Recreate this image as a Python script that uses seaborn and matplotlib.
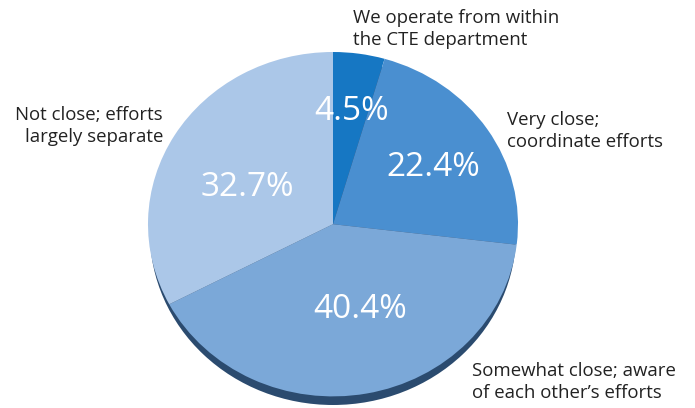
import matplotlib
matplotlib.use("Agg")
import matplotlib.pyplot as plt
from matplotlib.patches import Ellipse
import seaborn as sns

# Data
categories = ["We operate from within\nthe CTE department",
              "Very close;\ncoordinate efforts",
              "Somewhat close; aware\nof each other\u2019s efforts",
              "Not close; efforts\nlargely separate"]
values = [4.5, 22.4, 40.4, 32.7]
pct_labels = ["4.5%", "22.4%", "40.4%", "32.7%"]
colors = ["#1677c3", "#4a8fd0", "#7ba8d8", "#abc7e8"]

sns.set_theme(style="white")
plt.rcParams["font.family"] = ["Open Sans", "DejaVu Sans"]

W, H = 695, 408
fig = plt.figure(figsize=(W / 100, H / 100), dpi=100)

# Text overlay axes in pixel coordinates
tax = fig.add_axes([0, 0, 1, 1])
tax.set_xlim(0, W)
tax.set_ylim(H, 0)
tax.axis("off")

# Pie axes (slightly elliptical)
px0, px1, py0, py1 = 148, 518, 52, 405
pax = fig.add_axes([px0 / W, (H - py1) / H, (px1 - px0) / W, (py1 - py0) / H])
pax.patch.set_visible(False)

# shadow
shadow = Ellipse((0, -0.05), 1.98, 2.0, facecolor="#2b4b6f", edgecolor="none", zorder=0)
pax.add_patch(shadow)

wedges, _ = pax.pie(values, colors=colors, startangle=90, counterclock=False,
                    radius=1.0, center=(0, 0), frame=True,
                    wedgeprops=dict(linewidth=0))
pax.set_aspect("auto")
pax.set_xlim(-1, 1)
pax.set_ylim(-1.05, 1)
pax.axis("off")
pax.set_zorder(2)
tax.set_zorder(3)
tax.patch.set_visible(False)

# percentage labels (pixel positions)
pct_pos = [(352, 112), (433, 167), (360, 310), (247, 188)]
for (x, y), t in zip(pct_pos, pct_labels):
    tax.text(x, y, t, color="white", fontsize=24, ha="center", va="center", zorder=5)

# category labels
cat_pos = [(353, 29, "left"), (507, 131, "left"), (472, 382, "left"), (163, 126, "right")]
for (x, y, ha), t in zip(cat_pos, categories):
    tax.text(x, y, t, color="#222222", fontsize=13.4, ha=ha, va="center",
             linespacing=1.3, multialignment=ha)

fig.savefig("out.png", dpi=100)
